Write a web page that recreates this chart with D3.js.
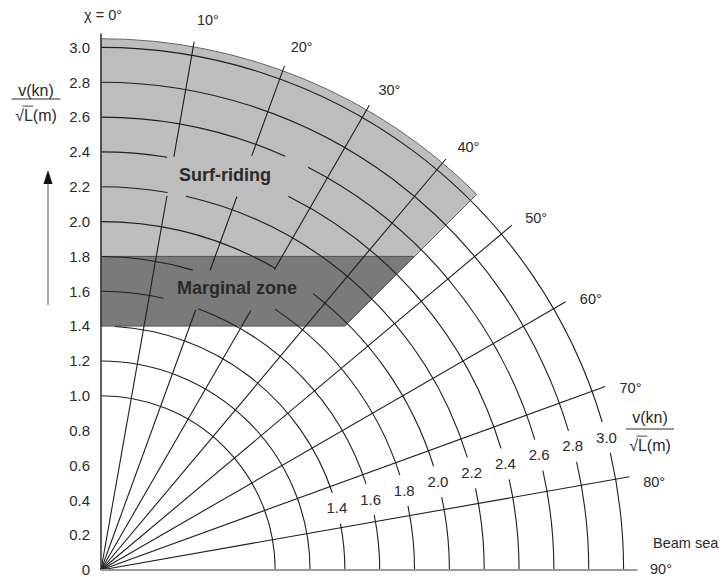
<!DOCTYPE html>
<html><head><meta charset="utf-8">
<script src="https://cdn.jsdelivr.net/npm/d3@7"></script>
<style>
body{margin:0;background:#fff}
svg{display:block}
text{font-family:"Liberation Sans",Arial,Helvetica,sans-serif;fill:#2a2a2a}
</style>
</head><body>
<svg id="chart" width="722" height="577"></svg>
<script>
// ---------- data ----------
const rayAngles = [10, 20, 30, 40, 50, 60, 70, 80];
const arcValues = [1.0, 1.2, 1.4, 1.6, 1.8, 2.0, 2.2, 2.4, 2.6, 2.8, 3.0];
const yTickValues = [0, 0.2, 0.4, 0.6, 0.8, 1.0, 1.2, 1.4, 1.6, 1.8, 2.0, 2.2, 2.4, 2.6, 2.8, 3.0];
const radialLabelValues = [1.4, 1.6, 1.8, 2.0, 2.2, 2.4, 2.6, 2.8, 3.0];
const angleLabelValues = [10, 20, 30, 40, 50, 60, 70, 80, 90];
const radialLabelAngle = 75.3;          // heading where the arc labels sit
const maxSpeed = 3.08;                  // extent of the rays
const surfZone = {from: 1.8, outer: 3.05, edge: 45, label: "Surf-riding"};
const marginalZone = {from: 1.4, to: 1.8, edge: 45, label: "Marginal zone"};
// pieces of grid lines hidden behind the zone labels
const arcBreaks = [
  {v: 2.6, a0: 24.0, a1: 27.2},
  {v: 2.4, a0: 9.1, a1: 26.6},
  {v: 2.2, a0: 10.0, a1: 12.8},
  {v: 2.0, a0: 30.0, a1: 37.5},
  {v: 1.8, a0: 17.0, a1: 33.7},
  {v: 1.6, a0: 12.9, a1: 20.4},
  {v: 1.4, a0: 0.0, a1: 3.3}
];
const rayBreaks = [
  {a: 10, v0: 2.18, v1: 2.41},
  {a: 20, v0: 2.28, v1: 2.53},
  {a: 20, v0: 1.59, v1: 1.83},
  {a: 30, v0: 1.72, v1: 1.99}
];

// ---------- layout ----------
const svg = d3.select("#chart");
const cx = 101, cy = 570;
const rS = d3.scaleLinear().domain([0, 3]).range([0, 522.6]);
const yS = d3.scaleLinear().domain([0, 3]).range([cy, cy - 522.6]);
const rad = d => d * Math.PI / 180;
const pt = (a, v) => [cx + rS(v) * Math.sin(rad(a)), cy - rS(v) * Math.cos(rad(a))];

function intervals(lo, hi, breaks) {
  let segs = [[lo, hi]];
  breaks.forEach(([b0, b1]) => {
    const out = [];
    segs.forEach(([s0, s1]) => {
      if (b1 <= s0 || b0 >= s1) { out.push([s0, s1]); return; }
      if (b0 > s0) out.push([s0, b0]);
      if (b1 < s1) out.push([b1, s1]);
    });
    segs = out;
  });
  return segs;
}

// ---------- zones ----------
const sp = d3.path();
sp.moveTo(cx, yS(surfZone.from));
sp.lineTo(...pt(surfZone.edge, surfZone.from * Math.SQRT2));
sp.lineTo(...pt(surfZone.edge, surfZone.outer));
sp.arc(cx, cy, rS(surfZone.outer), rad(surfZone.edge - 90), rad(-90), true);
sp.closePath();
svg.append("path").attr("d", sp.toString()).attr("fill", "#bdbdbd").attr("stroke", "#666").attr("stroke-width", 1);

const mp = d3.path();
mp.moveTo(cx, yS(marginalZone.from));
mp.lineTo(...pt(marginalZone.edge, marginalZone.from * Math.SQRT2));
mp.lineTo(...pt(marginalZone.edge, marginalZone.to * Math.SQRT2));
mp.lineTo(cx, yS(marginalZone.to));
mp.closePath();
svg.append("path").attr("d", mp.toString()).attr("fill", "#7a7a7a").attr("stroke", "#555").attr("stroke-width", 1);

// ---------- grid ----------
const grid = svg.append("g").attr("fill", "none").attr("stroke", "#1e1e1e").attr("stroke-width", 1.1);

arcValues.forEach(v => {
  const br = arcBreaks.filter(b => b.v === v).map(b => [b.a0, b.a1]);
  if (radialLabelValues.includes(v)) {
    const half = 16 / rS(v) * 180 / Math.PI;
    br.push([radialLabelAngle - half, radialLabelAngle + half]);
  }
  intervals(0, 90, br).forEach(([a0, a1]) => {
    const p = d3.path();
    p.arc(cx, cy, rS(v), rad(a0 - 90), rad(a1 - 90), false);
    grid.append("path").attr("d", p.toString());
  });
});

rayAngles.forEach(a => {
  const br = rayBreaks.filter(b => b.a === a).map(b => [b.v0, b.v1]);
  intervals(0, maxSpeed, br).forEach(([v0, v1]) => {
    const [x0, y0] = pt(a, v0), [x1, y1] = pt(a, v1);
    grid.append("line").attr("x1", x0).attr("y1", y0).attr("x2", x1).attr("y2", y1);
  });
});

// axes (0° and 90°)
const top0 = pt(0, maxSpeed), end90 = pt(90, maxSpeed);
svg.append("line").attr("x1", cx).attr("y1", cy).attr("x2", top0[0]).attr("y2", top0[1])
  .attr("stroke", "#3a3a3a").attr("stroke-width", 1.6);
svg.append("line").attr("x1", cx).attr("y1", cy).attr("x2", end90[0]).attr("y2", end90[1])
  .attr("stroke", "#9a9a9a").attr("stroke-width", 2);

// ---------- y tick labels ----------
const yAxis = d3.axisLeft(yS).tickValues(yTickValues).tickSize(0).tickPadding(11)
  .tickFormat(d => d === 0 ? "0" : d.toFixed(1));
const ya = svg.append("g").attr("transform", `translate(${cx},0)`).call(yAxis);
ya.select(".domain").remove();
ya.selectAll("text").attr("font-size", 15).attr("fill", "#333")
  .attr("font-family", '"Liberation Sans",Arial,sans-serif');

// ---------- radial labels ----------
svg.append("g").selectAll("text").data(radialLabelValues).join("text")
  .attr("x", d => pt(radialLabelAngle, d)[0])
  .attr("y", d => pt(radialLabelAngle, d)[1])
  .attr("dy", "0.35em").attr("text-anchor", "middle").attr("font-size", 15)
  .text(d => d.toFixed(1));

// ---------- angle labels ----------
svg.append("g").selectAll("text").data(angleLabelValues).join("text")
  .attr("x", d => cx + 560 * Math.sin(rad(Math.min(d + 1, 89.9))))
  .attr("y", d => cy - 560 * Math.cos(rad(Math.min(d + 1, 89.9))))
  .attr("dy", "0.35em").attr("text-anchor", "middle").attr("font-size", 14.5)
  .text(d => d + "°");
svg.append("text").attr("x", 103).attr("y", 15).attr("dy", "0.35em").attr("text-anchor", "middle")
  .attr("font-size", 14.5).text("χ = 0°");
svg.append("text").attr("x", 653).attr("y", 543).attr("dy", "0.35em")
  .attr("font-size", 14.5).text("Beam sea");

// ---------- zone labels ----------
svg.append("text").attr("x", 225).attr("y", 181).attr("text-anchor", "middle")
  .attr("font-size", 18).attr("font-weight", "bold").attr("fill", "#111").text(surfZone.label);
svg.append("text").attr("x", 237).attr("y", 294).attr("text-anchor", "middle")
  .attr("font-size", 18).attr("font-weight", "bold").attr("fill", "#111").text(marginalZone.label);

// ---------- speed fraction labels ----------
function fraction(x, yNum, yBar, yDen, barW) {
  const g = svg.append("g");
  g.append("text").attr("x", x).attr("y", yNum).attr("dy", "0.35em").attr("text-anchor", "middle")
    .attr("font-size", 16).text("v(kn)");
  g.append("line").attr("x1", x - barW / 2).attr("x2", x + barW / 2).attr("y1", yBar).attr("y2", yBar)
    .attr("stroke", "#333").attr("stroke-width", 1);
  const den = g.append("text").attr("x", x).attr("y", yDen).attr("dy", "0.35em").attr("text-anchor", "middle")
    .attr("font-size", 16).text("√L(m)");
  const n = den.node();
  const e0 = n.getExtentOfChar(0), e1 = n.getExtentOfChar(1);
  g.append("line").attr("x1", e0.x + e0.width - 1.5).attr("x2", e1.x + e1.width + 0.5)
    .attr("y1", e0.y - 0.5).attr("y2", e0.y - 0.5).attr("stroke", "#333").attr("stroke-width", 0.9);
}
fraction(36, 90, 99, 115, 49);
fraction(650, 417, 429, 445, 48);

// ---------- arrow ----------
svg.append("line").attr("x1", 48).attr("x2", 48).attr("y1", 305).attr("y2", 182)
  .attr("stroke", "#a8a8a8").attr("stroke-width", 2);
svg.append("path").attr("d", "M48,170 L43.5,184 L52.5,184 Z").attr("fill", "#111");
</script>
</body></html>
